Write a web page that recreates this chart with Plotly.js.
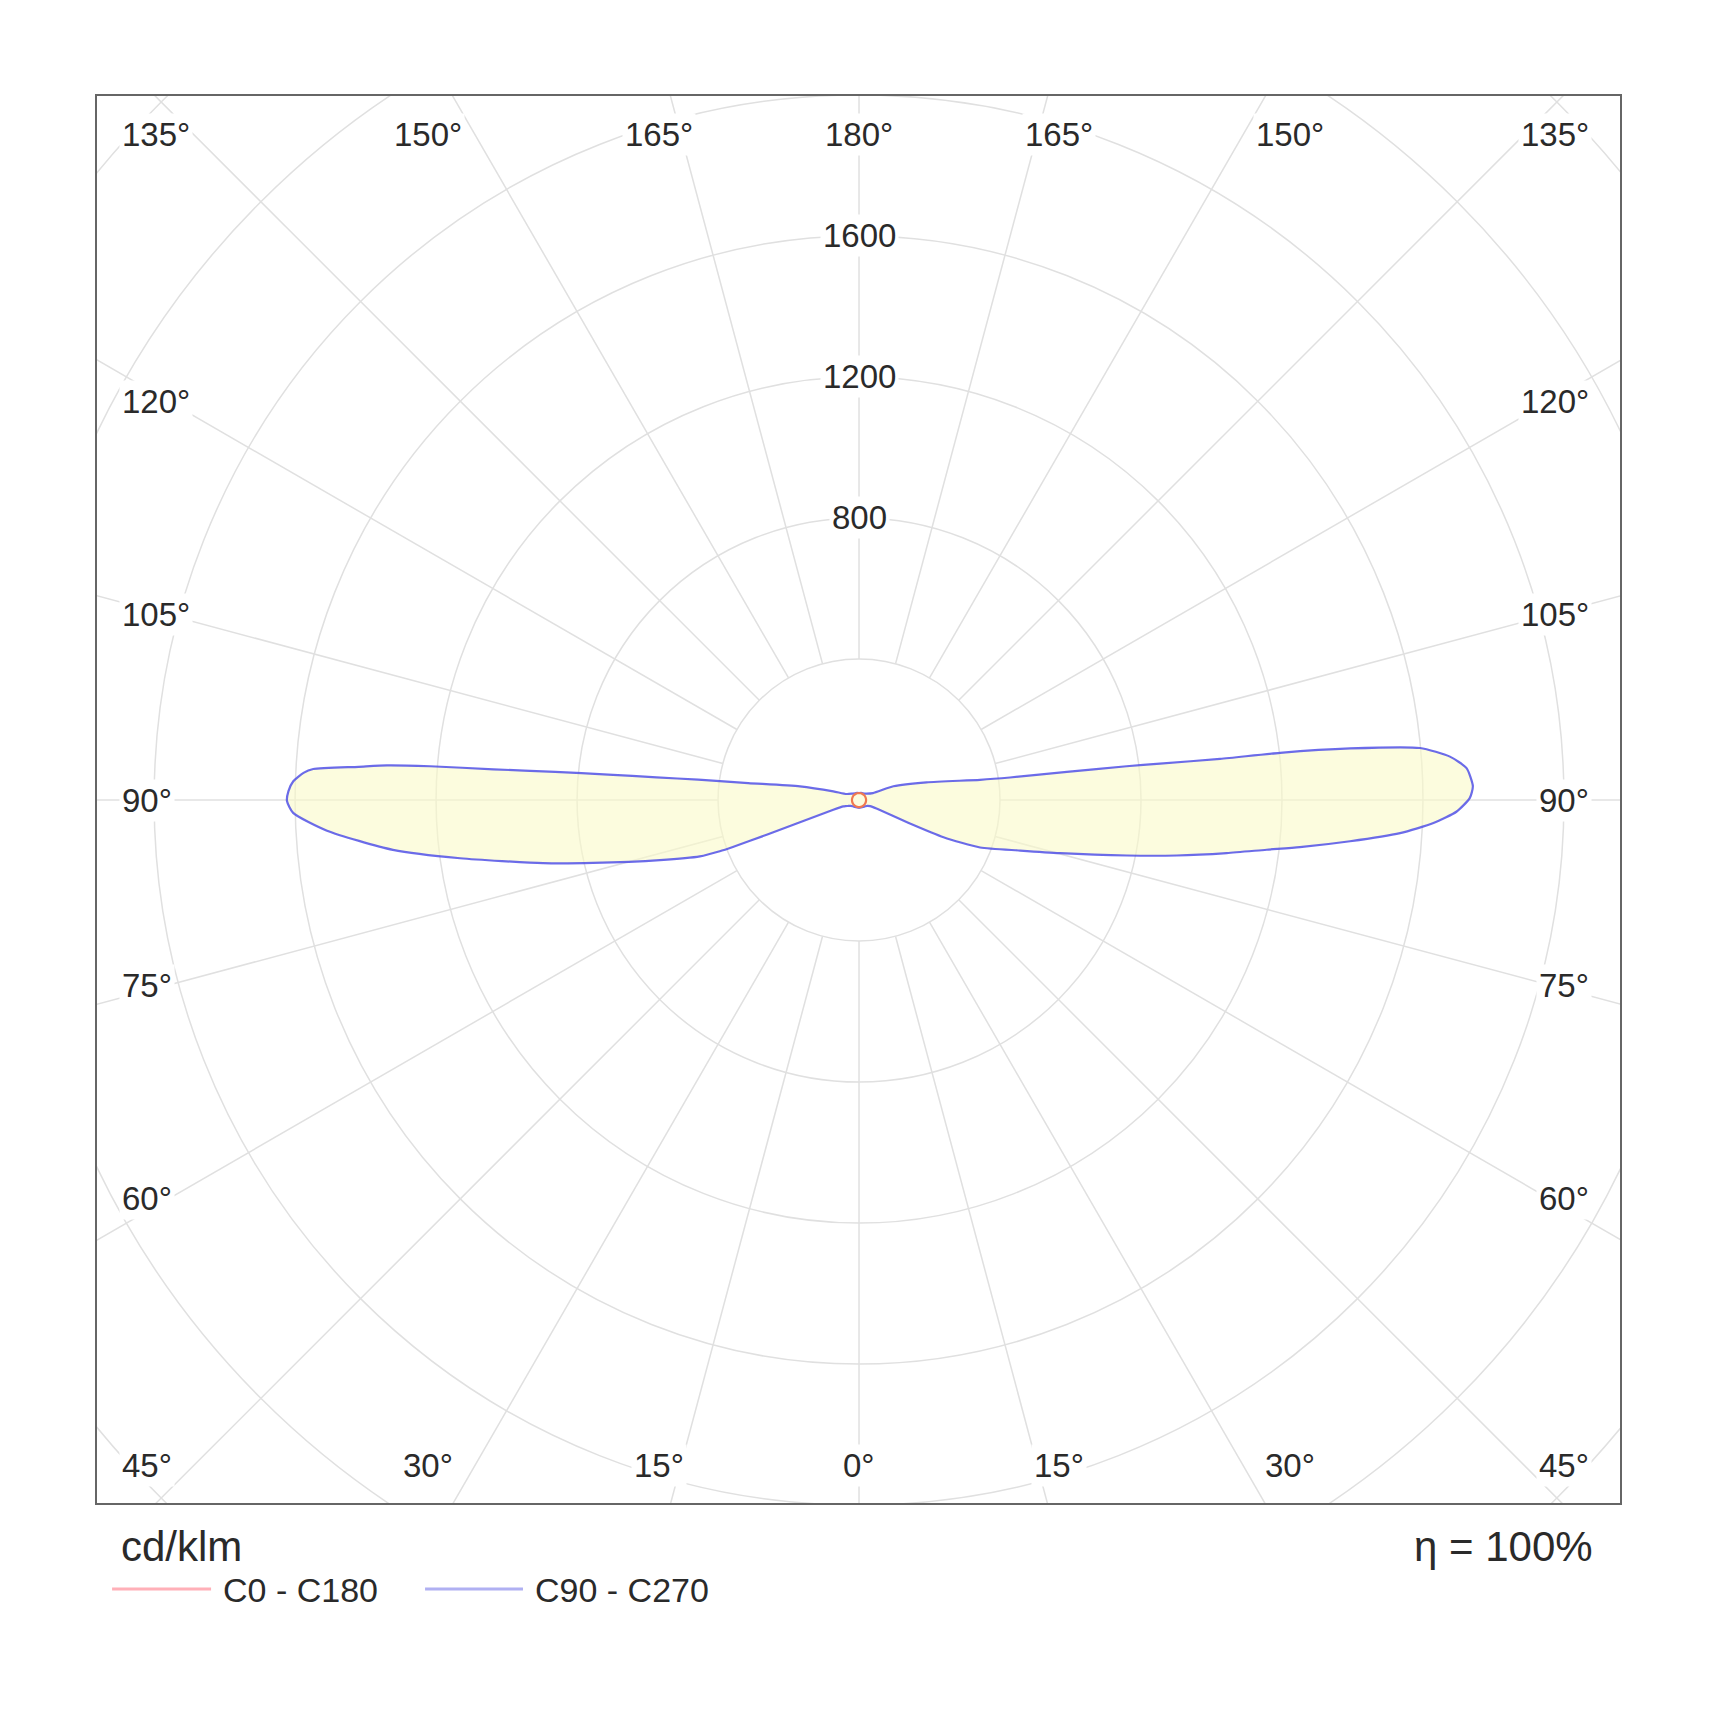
<!DOCTYPE html>
<html>
<head>
<meta charset="utf-8">
<script src="https://cdn.plot.ly/plotly-3.0.1.min.js"></script>
<style>
  html, body { margin: 0; padding: 0; background: #fff; }
  #chart { width: 1720px; height: 1720px; }
</style>
</head>
<body>
<div id="chart"></div>
<script>
// luminous intensity, cd/klm
// gamma: 0 = straight down, 90 = horizontal, 180 = straight up
var gammaC90 = [0, 15, 30, 45, 55, 61, 64, 65.2, 66.2, 68.6, 72.6, 75.2, 78.3, 80.1, 81.8, 83.05, 83.9, 85.2, 86.5, 87.7,
  88.9, 90.2, 91.3, 93.0, 94.2, 95.3, 96.0, 96.4, 96.5, 96.9, 97.2, 97.7, 98.5, 99.5, 104.7, 111.8, 116.6, 135, 150, 165, 180];
var intensityC90 = [22, 22, 23, 25, 29, 36, 55, 161, 262, 369, 479, 590, 776, 915, 1054, 1165, 1258, 1398, 1538, 1631,
  1696, 1733, 1742, 1726, 1681, 1598, 1401, 1202, 1031, 860, 765, 595, 433, 348, 198, 105, 44, 26, 22, 21, 20];

var gammaC270 = [0, 15, 30, 45, 55, 62, 66, 68.1, 69.3, 69.4, 69.6, 69.8, 70.5, 73.2, 76.7, 78.7, 81.7, 83.9, 86.7, 88.7,
  89.9, 90.9, 91.9, 92.8, 93.25, 93.8, 94.2, 94.5, 94.8, 95.3, 95.8, 96.4, 97.2, 98.7, 103.1, 108.7, 116, 135, 150, 165, 180];
var intensityC270 = [22, 22, 23, 25, 29, 36, 42, 48, 78, 280, 382, 421, 479, 590, 776, 914, 1144, 1330, 1512, 1606,
  1623, 1619, 1606, 1578, 1551, 1423, 1343, 1221, 1041, 866, 715, 578, 460, 318, 172, 77, 39, 26, 22, 21, 20];

var gammaC0 = [0, 15, 30, 45, 60, 75, 90, 105, 120, 135, 150, 165, 180];
var intensityC0 = [20, 20, 20, 20, 20, 20, 20, 20, 20, 20, 20, 20, 20];
var intensityC180 = [20, 20, 20, 20, 20, 20, 20, 20, 20, 20, 20, 20, 20];

var rings = [400, 800, 1200, 1600, 2000, 2400, 2800];
var ringLabels = [800, 1200, 1600];
var topLabels = ['150°', '165°', '180°', '165°', '150°'];
var topAngles = [-30, -15, 0, 15, 30];
var bottomLabels = ['30°', '15°', '0°', '15°', '30°'];
var sideLabels = ['120°', '105°', '90°', '75°', '60°'];
var sideAngles = [30, 15, 0, -15, -30];

var seriesNames = ['C0 - C180', 'C90 - C270'];
var lineColors = ['rgb(240,120,80)', 'rgba(70,70,230,0.8)'];
var legendColors = ['#ffb0b8', '#b0b0f2'];

var rad = Math.PI / 180;

// one closed outline: right half 0 -> 180, left half 180 -> 0
function outline(gR, iR, gL, iL) {
  var x = [], y = [];
  for (var i = 0; i < gR.length; i++) {
    x.push(iR[i] * Math.sin(gR[i] * rad));
    y.push(-iR[i] * Math.cos(gR[i] * rad));
  }
  for (var j = gL.length - 1; j >= 0; j--) {
    x.push(-iL[j] * Math.sin(gL[j] * rad));
    y.push(-iL[j] * Math.cos(gL[j] * rad));
  }
  return {x: x, y: y};
}

var c90 = outline(gammaC90, intensityC90, gammaC270, intensityC270);
var c0 = outline(gammaC0, intensityC0, gammaC0, intensityC180);

var traces = [
  {
    x: c90.x, y: c90.y, type: 'scatter', mode: 'lines', name: seriesNames[1],
    fill: 'toself', fillcolor: 'rgba(250,250,200,0.6)',
    line: {color: lineColors[1], width: 2.2, shape: 'spline', smoothing: 0.6},
    showlegend: false, hoverinfo: 'skip'
  },
  {
    x: c0.x, y: c0.y, type: 'scatter', mode: 'lines', name: seriesNames[0],
    line: {color: lineColors[0], width: 2.2, shape: 'spline', smoothing: 1},
    showlegend: false, hoverinfo: 'skip'
  }
];

var gridColor = '#e0e0e0';
var shapes = [];
rings.forEach(function (r) {
  shapes.push({type: 'circle', xref: 'x', yref: 'y', x0: -r, x1: r, y0: -r, y1: r,
    layer: 'below', line: {color: gridColor, width: 1.5}});
});
for (var a = 0; a < 360; a += 15) {
  var s = Math.sin(a * rad), c = Math.cos(a * rad);
  shapes.push({type: 'line', xref: 'x', yref: 'y',
    x0: rings[0] * s, y0: rings[0] * c, x1: 3400 * s, y1: 3400 * c,
    layer: 'below', line: {color: gridColor, width: 1.5}});
}

var labelFont = {family: 'Liberation Sans, Arial, sans-serif', size: 33, color: '#2a2a2a'};
var annotations = [];
function label(text, x, y, xanchor) {
  annotations.push({text: text, x: x, y: y, xref: 'x', yref: 'y', xanchor: xanchor || 'center',
    yanchor: 'middle', showarrow: false, font: labelFont, bgcolor: '#fff', borderpad: 2});
}
ringLabels.forEach(function (v) { label(String(v), 0, v); });

// label rows sit just inside the frame
var topY = 1889, labelRow = 2120, leftX = -2099, rightX = 2080, sideRow = 1960;
topAngles.forEach(function (ang, i) {
  var x = labelRow * Math.tan(ang * rad);
  label(topLabels[i], x, topY);
  label(bottomLabels[i], x, -topY);
});
sideAngles.forEach(function (ang, i) {
  var y = sideRow * Math.tan(ang * rad);
  label(sideLabels[i], leftX, y, 'left');
  label(sideLabels[i], rightX, y, 'right');
});
label('135°', leftX, topY, 'left');
label('135°', rightX, topY, 'right');
label('45°', leftX, -topY, 'left');
label('45°', rightX, -topY, 'right');

// legend and footer under the frame
var footFont = {family: 'Liberation Sans, Arial, sans-serif', size: 42, color: '#2a2a2a'};
var legendFont = {family: 'Liberation Sans, Arial, sans-serif', size: 34, color: '#2a2a2a'};
annotations.push({text: 'cd/klm', xref: 'paper', yref: 'paper', x: 0.0145, y: -0.031,
  xanchor: 'left', yanchor: 'middle', showarrow: false, font: footFont});
annotations.push({text: 'η = 100%', xref: 'paper', yref: 'paper', x: 0.9836, y: -0.031,
  xanchor: 'right', yanchor: 'middle', showarrow: false, font: footFont});
var legendX = [[0.0099, 0.0749, 0.0814], [0.2154, 0.2797, 0.2863]];
seriesNames.forEach(function (name, i) {
  shapes.push({type: 'line', xref: 'paper', yref: 'paper', x0: legendX[i][0], x1: legendX[i][1],
    y0: -0.0611, y1: -0.0611, line: {color: legendColors[i], width: 3}});
  annotations.push({text: name, xref: 'paper', yref: 'paper', x: legendX[i][2], y: -0.062,
    xanchor: 'left', yanchor: 'middle', showarrow: false, font: legendFont});
});

var axisBase = {showgrid: false, zeroline: false, showticklabels: false, ticks: '',
  showline: true, mirror: true, linecolor: '#666', linewidth: 2, fixedrange: true};

var layout = {
  width: 1720, height: 1720,
  margin: {l: 97, r: 100, t: 96, b: 217},
  paper_bgcolor: '#fff', plot_bgcolor: '#fff',
  xaxis: Object.assign({range: [-2162, 2159]}, axisBase),
  yaxis: Object.assign({range: [-1994, 1997]}, axisBase),
  shapes: shapes,
  annotations: annotations,
  showlegend: false
};

Plotly.newPlot('chart', traces, layout, {displayModeBar: false, staticPlot: true});
</script>
</body>
</html>
